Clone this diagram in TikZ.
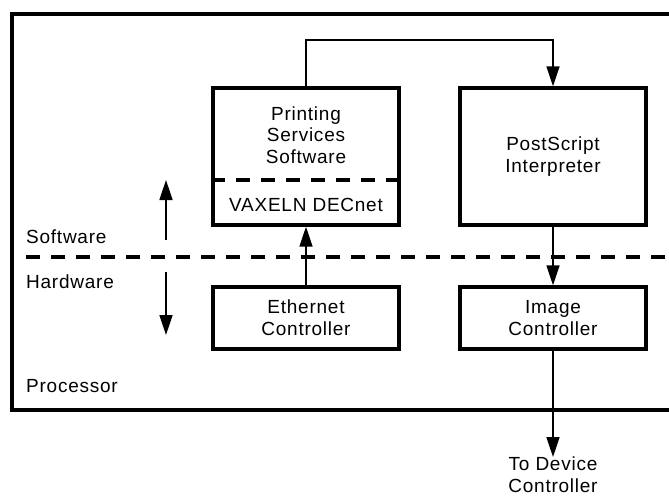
\documentclass[tikz,border=0pt]{standalone}
\usepackage{fontspec}
\setmainfont{Liberation Sans}[LetterSpace=4]
\usetikzlibrary{arrows.meta}

\begin{document}
\begin{tikzpicture}
	[x=1pt,y=-1pt,>={Triangle[length=20pt,width=13pt]},
	 font=\fontsize{19}{21.7}\selectfont,
	 box/.style={draw,line width=3.4pt,minimum width=186pt,align=center},
	 lbl/.style={anchor=west,inner sep=0pt},
	 sepline/.style={line width=3.4pt,dash pattern=on 14pt off 11pt},
	 conn/.style={line width=1.7pt}]
	\useasboundingbox (0,0) rectangle (669,499);
	\clip (0,0) rectangle (669,499);
	\draw[line width=3.2pt] (12,14) rectangle (700,410);
	
	\node[box, minimum height=137pt] (pss) at (306,156.5) {};
	\node[box, minimum height=137pt] (ps) at (553,156.5) {PostScript\\Interpreter};
	\node[box, minimum height=62pt] (eth) at (306,318) {Ethernet\\Controller};
	\node[box, minimum height=62pt] (img) at (553,318) {Image\\Controller};
	\node[align=center] (pssname) at (306,135) {Printing\\Services\\Software};
	\node (vax) at (306,205) {VAXELN DECnet};
	\node[align=center,anchor=north,inner sep=0pt] (dev) at (553,457) {To Device\\Controller};
	
	\node[lbl] (sw) at (26,237) {Software};
	\node[lbl] (hw) at (26,282) {Hardware};
	\node[lbl] (proc) at (26,386) {Processor};
	
	\draw[sepline] (pss.west |- 0,180) -- (pss.east |- 0,180);
	\draw[sepline] (26,257) -- (669,257);
	
	\coordinate (swtail) at (166,240);
	\coordinate (swhead) at (166,180);
	\coordinate (hwtail) at (166,272);
	\coordinate (hwhead) at (166,335);
	\foreach \from/\to in {swtail/swhead,hwtail/hwhead,eth/pss,ps/img,img/dev}
		\draw[conn,->] (\from) -- (\to);
	\draw[conn,->] (pss.north) -- ++(0,-46) -| (ps.north);
\end{tikzpicture}
\end{document}
